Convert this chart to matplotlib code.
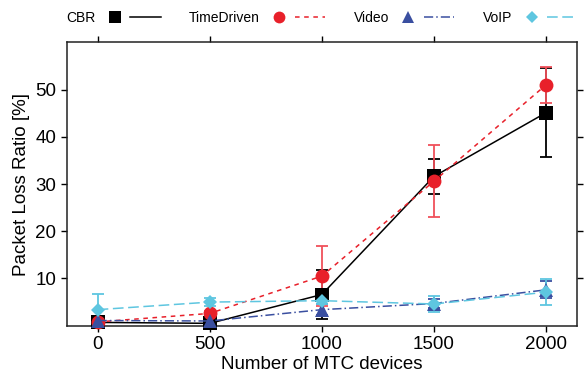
import matplotlib
matplotlib.use('Agg')
import matplotlib.pyplot as plt
from matplotlib.lines import Line2D
from matplotlib.legend_handler import HandlerTuple

plt.rcParams['font.family'] = ['Liberation Sans', 'DejaVu Sans']

# MTC devices on the x axis
devices = [0, 500, 1000, 1500, 2000]

# packet loss ratio [%] and error half-widths, per traffic class
cbr = [0.7, 0.5, 6.6, 31.6, 45.1]
cbr_err = [0.3, 0.3, 5.1, 3.8, 9.4]
timedriven = [0.8, 2.6, 10.5, 30.6, 51.0]
timedriven_err = [0.3, 0.5, 6.3, 7.6, 3.8]
video = [1.1, 1.0, 3.4, 4.7, 7.6]
video_err = [0.5, 0.3, 1.2, 1.0, 1.8]
voip = [3.4, 5.0, 5.3, 4.6, 7.1]
voip_err = [3.3, 0.9, 0.8, 1.7, 2.7]

names = ['CBR', 'TimeDriven', 'Video', 'VoIP']
series = [cbr, timedriven, video, voip]
errors = [cbr_err, timedriven_err, video_err, voip_err]
colors = ['black', '#e8202a', '#3a4fa0', '#5ec6e0']
ecolors = ['black', '#f0505a', '#3a4fa0', '#5ec6e0']
markers = ['s', 'o', '^', 'D']
msizes = [9.5, 10, 10, 7]
styles = ['-', (0, (3, 3)), (0, (6, 2, 1, 2)), (0, (7, 3))]

fig = plt.figure(figsize=(5.84, 3.84), dpi=100)
ax = fig.add_axes([0.1142, 0.1518, 0.988 - 0.1142, 0.8898 - 0.1518])

handles = []
for name, y, e, c, ec, m, ms, ls in zip(names, series, errors, colors, ecolors, markers, msizes, styles):
    line, caps, bars = ax.errorbar(devices, y, yerr=e, color=c, ecolor=ec, marker=m, markersize=ms,
                                   linestyle=ls, linewidth=1.1, elinewidth=1.3, capsize=4, capthick=1.3,
                                   clip_on=False, zorder=3)
    line.set_markeredgewidth(0)
    mk = Line2D([], [], color=c, marker=m, markersize=ms * 0.85, linestyle='none', markeredgewidth=0)
    ln = Line2D([], [], color=c, linestyle=ls, linewidth=1.1)
    handles.append((mk, ln))

ax.set_xlim(-138, 2138)
ax.set_ylim(0, 60)
ax.set_xticks(devices)
ax.set_yticks([10, 20, 30, 40, 50])
ax.tick_params(axis='both', which='both', direction='out', length=4, width=1,
               labelsize=13.5, top=True, right=True, labeltop=False, labelright=False)
for s in ax.spines.values():
    s.set_linewidth(1.1)
    s.set_color('#222222')

ax.set_xlabel('Number of MTC devices', fontsize=13.5, labelpad=2)
ax.set_ylabel('Packet Loss Ratio [%]', fontsize=13.5, labelpad=4)

fig.legend(handles, names, loc='center left', bbox_to_anchor=(66 / 584, 1 - 17.5 / 384),
           ncol=4, frameon=False, markerfirst=False, fontsize=10,
           handler_map={tuple: HandlerTuple(ndivide=None, pad=0.0)},
           handlelength=4.4, handletextpad=0.3, columnspacing=2.05,
           borderpad=0, borderaxespad=0)

plt.savefig('out.png', dpi=100)
